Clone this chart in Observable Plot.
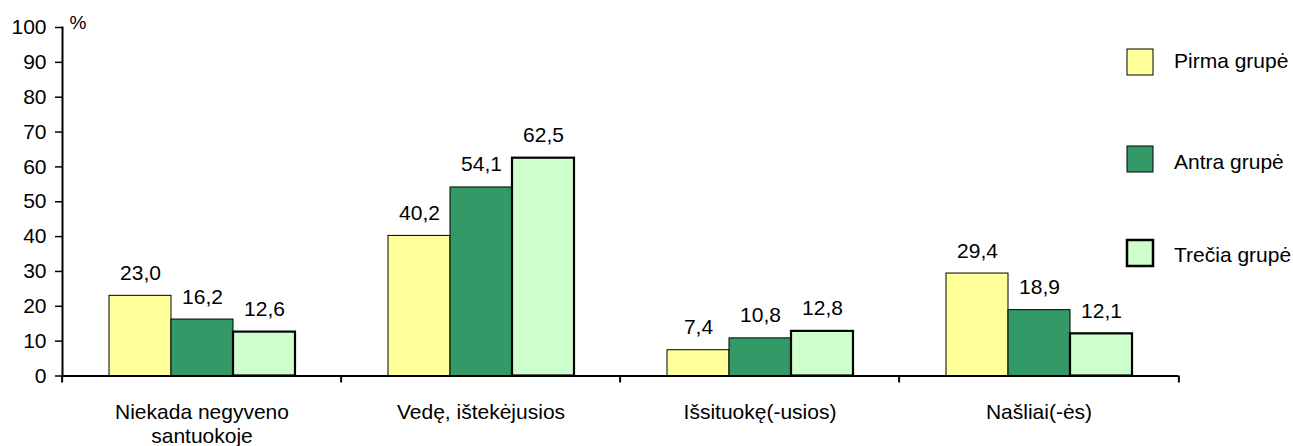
<!DOCTYPE html>
<html>
<head>
<meta charset="utf-8">
<script src="https://cdn.jsdelivr.net/npm/d3@7"></script>
<script src="https://cdn.jsdelivr.net/npm/@observablehq/plot@0.6"></script>
<style>
  html, body { margin: 0; padding: 0; background: #fff; }
  #chart { width: 1293px; height: 446px; }
</style>
</head>
<body>
<div id="chart"></div>
<script>
const categories = ["Niekada negyveno\nsantuokoje", "Vedę, ištekėjusios", "Išsituokę(-usios)", "Našliai(-ės)"];
const groups = ["Pirma grupė", "Antra grupė", "Trečia grupė"];
const pirma = [23.0, 40.2, 7.4, 29.4];
const antra = [16.2, 54.1, 10.8, 18.9];
const trecia = [12.6, 62.5, 12.8, 12.1];
const yTicks = [0, 10, 20, 30, 40, 50, 60, 70, 80, 90, 100];
const colors = ["#FFFF99", "#339966", "#CCFFCC"];
const strokeWidths = [1, 1, 2.2];

const series = [pirma, antra, trecia];
const data = [];
categories.forEach((c, i) => {
  groups.forEach((g, j) => {
    data.push({category: c, group: g, gi: j, value: series[j][i]});
  });
});

const FONT = "'Liberation Sans', Arial, sans-serif";
const FS = 21;
const W = 1293, H = 446, ML = 60, MR = 114, MT = 27, MB = 70.5;
const facetW = (W - ML - MR) / categories.length;

const chart = Plot.plot({
  width: W,
  height: H,
  marginLeft: ML,
  marginRight: MR,
  marginTop: MT,
  marginBottom: MB,
  style: {fontFamily: FONT, fontSize: FS + "px", background: "white", color: "#000", overflow: "visible"},
  fx: {domain: categories, padding: 0, label: null},
  x: {domain: groups, paddingInner: 0, paddingOuter: 0.75, axis: null},
  y: {domain: [0, 100], axis: null},
  color: {domain: groups, range: colors},
  marks: [
    Plot.barY(data, {
      fx: "category", x: "group", y: "value",
      fill: "group", stroke: "#000",
      strokeWidth: d => strokeWidths[d.gi]
    }),
    Plot.text(data, {
      fx: "category", x: "group", y: "value",
      text: d => d.value.toFixed(1).replace(".", ","),
      lineAnchor: "bottom", dy: -16, fontSize: FS, fill: "#000"
    }),
    Plot.ruleY([0], {stroke: "#000", strokeWidth: 2}),
    Plot.frame({anchor: "left", facetAnchor: "left", stroke: "#000", strokeWidth: 2}),
    Plot.axisY({ticks: yTicks, tickSize: 7, tickPadding: 9, tickFormat: d => String(d), fontSize: FS, strokeWidth: 1.5, label: null}),
    Plot.axisFx({anchor: "bottom", tickSize: 0, tickPadding: 27, fontSize: FS, lineHeight: 1.1, label: null}),
    Plot.axisFx({anchor: "bottom", tickSize: 7, tickFormat: () => "", dx: -facetW / 2, strokeWidth: 2, label: null}),
    Plot.axisFx({anchor: "bottom", ticks: [categories[categories.length - 1]], tickSize: 7, tickFormat: () => "", dx: facetW / 2, strokeWidth: 2, label: null}),
    Plot.text(["%"], {facetAnchor: "left", frameAnchor: "top-left", dx: 7, dy: 1, textAnchor: "start", lineAnchor: "bottom", fontSize: 19, fill: "#000"})
  ]
});

document.getElementById("chart").appendChild(chart);

// legend
const svg = d3.select(chart);
const legendTops = [49, 146, 240];
const legendBaselines = [68, 169, 262];
const lg = svg.append("g").attr("font-family", FONT).attr("font-size", FS).attr("text-anchor", "start");
groups.forEach((name, i) => {
  lg.append("rect").attr("x", 1127).attr("y", legendTops[i]).attr("width", 26).attr("height", 26)
    .attr("fill", colors[i]).attr("stroke", "#000").attr("stroke-width", strokeWidths[i] === 1 ? 1 : 2.5);
  lg.append("text").attr("x", 1174).attr("y", legendBaselines[i]).attr("fill", "#000").attr("text-anchor", "start").text(name);
});
</script>
</body>
</html>
